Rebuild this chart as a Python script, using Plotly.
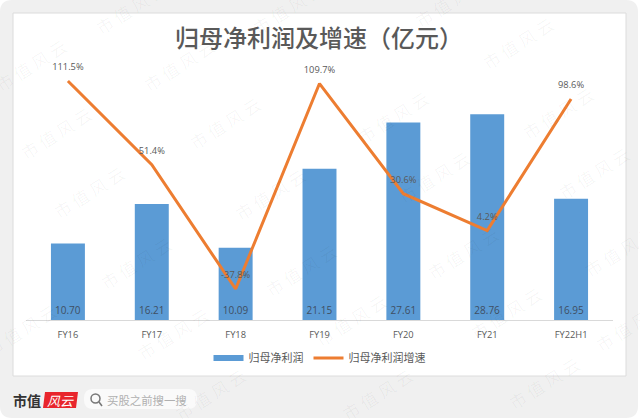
import plotly.graph_objects as go

categories = ["FY16", "FY17", "FY18", "FY19", "FY20", "FY21", "FY22H1"]
profit = [10.70, 16.21, 10.09, 21.15, 27.61, 28.76, 16.95]
growth = [111.5, 51.4, -37.8, 109.7, 30.6, 4.2, 98.6]

TITLE = "归母净利润及增速（亿元）"
SERIES_BAR = "归母净利润"
SERIES_LINE = "归母净利润增速"
CJK = "Noto Sans CJK SC"
LATIN = "Open Sans, Noto Sans CJK SC"
GREY = "#595959"
BLUE = "#5b9bd5"
ORANGE = "#ed7d31"
CLEAR = "rgba(0,0,0,0)"

# plot area in window pixels; helpers turn window pixels into paper coordinates
L, R, T, B = 26, 613, 60, 320
def px(x): return (x - L) / (R - L)
def py(y): return (B - y) / (B - T)

fig = go.Figure()
fig.add_bar(
    x=categories, y=profit, name=SERIES_BAR, width=0.405, showlegend=False,
    marker=dict(color=BLUE, line=dict(width=0)),
    text=profit, texttemplate="%{y:.2f}", textposition="inside",
    insidetextanchor="start", textangle=0, constraintext="none",
    insidetextfont=dict(family=LATIN, size=10, color="#3f4f63"),
    cliponaxis=False,
)
fig.add_scatter(x=[None], y=[None], name=SERIES_BAR, mode="lines",
                line=dict(color=BLUE, width=6))
fig.add_scatter(
    x=categories, y=growth, name=SERIES_LINE, yaxis="y2", mode="lines+markers+text",
    line=dict(color=ORANGE, width=3),
    marker=dict(size=12, color=CLEAR, line=dict(width=0, color=CLEAR)),
    text=growth, texttemplate="%{y:.1f}%", textposition="top center",
    textfont=dict(family=LATIN, size=9.3, color=GREY), cliponaxis=False,
)

def rounded(x0, y0, x1, y1, r):
    return " ".join([
        f"M {px(x0)} {py(y0 + r)}",
        f"Q {px(x0)} {py(y0)} {px(x0 + r)} {py(y0)}",
        f"L {px(x1 - r)} {py(y0)}",
        f"Q {px(x1)} {py(y0)} {px(x1)} {py(y0 + r)}",
        f"L {px(x1)} {py(y1 - r)}",
        f"Q {px(x1)} {py(y1)} {px(x1 - r)} {py(y1)}",
        f"L {px(x0 + r)} {py(y1)}",
        f"Q {px(x0)} {py(y1)} {px(x0)} {py(y1 - r)} Z",
    ])

def paper_shape(**kw):
    return dict(xref="paper", yref="paper", layer="below", **kw)

shapes = [
    paper_shape(type="path", path=rounded(0, 0, 638, 418, 12), fillcolor="#f0f0f0", line=dict(width=0)),
    paper_shape(type="rect", x0=px(13), x1=px(626), y0=py(376), y1=py(13),
                fillcolor="#ffffff", line=dict(color="#dcdcdc", width=1)),
    paper_shape(type="path", path=rounded(84, 389, 197, 409, 9), fillcolor="#fafafa", line=dict(width=0)),
    paper_shape(type="path",
                path=f"M {px(45)} {py(392)} L {px(78)} {py(392)} L {px(76)} {py(408)} L {px(43)} {py(408)} Z",
                fillcolor="#e8252c", line=dict(width=0)),
    paper_shape(type="circle", x0=px(91), x1=px(100), y0=py(403), y1=py(394),
                line=dict(color="#777777", width=1.5)),
    paper_shape(type="line", x0=px(99), x1=px(102), y0=py(402), y1=py(406),
                line=dict(color="#777777", width=1.5)),
]

def px_text(x, y, text, size, color, family=CJK, angle=0, weight=None):
    font = dict(family=family, size=size, color=color)
    if weight:
        font["weight"] = weight
    return dict(xref="paper", yref="paper", x=px(x), y=py(y), text=text,
                showarrow=False, xanchor="center", yanchor="middle", textangle=angle, font=font)

annotations = [
    px_text(319, 36, TITLE, 24, GREY, weight=500),
    px_text(27, 400, "<b>市值</b>", 14, "#333333"),
    px_text(60, 400, "<i>风云</i>", 13, "#ffffff"),
    px_text(147, 400, "买股之前搜一搜", 11.4, "#b0b0b0"),
]
watermarks = [(30, 65), (178, 65), (55, 133), (224, 123), (130, 8), (287, 8), (88, 192), (270, 195),
              (517, 43), (392, 117), (557, 113), (450, 2), (433, 177), (593, 173), (135, 263),
              (300, 270), (20, 330), (173, 333), (210, 395), (462, 253), (620, 250), (505, 313),
              (377, 395), (543, 383), (350, 320), (630, 325)]
for wx, wy in watermarks:
    annotations.append(px_text(wx, wy, "市 值 风 云", 17, "rgba(0,0,0,0.04)", angle=-32))

fig.update_layout(
    width=640, height=420, autosize=False,
    margin=dict(l=L, r=640 - R, t=T, b=420 - B, pad=0),
    paper_bgcolor="#ffffff", plot_bgcolor=CLEAR,
    shapes=shapes, annotations=annotations, showlegend=True,
    font=dict(family=LATIN, color=GREY),
    legend=dict(orientation="h", x=0.5, xanchor="center", y=py(358), yanchor="middle",
                bgcolor=CLEAR, font=dict(family=CJK, size=11, color=GREY),
                itemwidth=30, traceorder="normal"),
    xaxis=dict(showline=True, linecolor="#d9d9d9", linewidth=1, ticks="", showgrid=False,
               tickfont=dict(family=LATIN, size=9.3, color=GREY), ticklabelstandoff=6, zeroline=False),
    yaxis=dict(range=[0, 36.36], visible=False, showgrid=False, zeroline=False),
    yaxis2=dict(range=[-60.05, 126.6], overlaying="y", side="right", visible=False,
                showgrid=False, zeroline=False),
)
fig.write_html("out.html", config=dict(displayModeBar=False),
               post_script="document.body.style.margin='0';document.body.style.overflow='hidden';")
